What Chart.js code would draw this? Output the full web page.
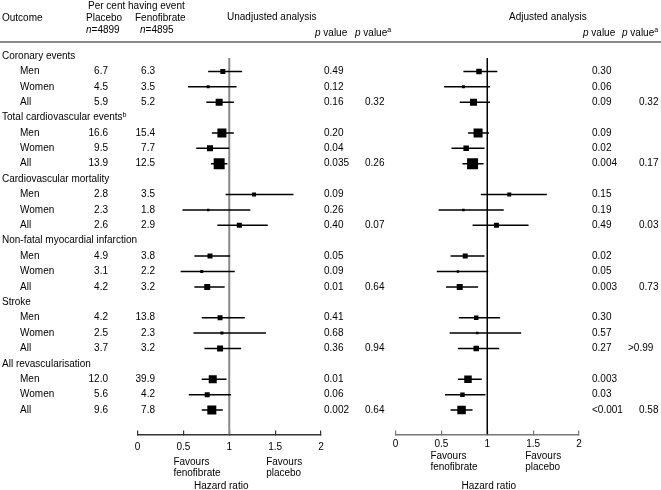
<!DOCTYPE html>
<html>
<head>
<meta charset="utf-8">
<script src="https://cdn.jsdelivr.net/npm/chart.js@4.4.1/dist/chart.umd.min.js"></script>
<style>
  html, body { margin: 0; padding: 0; background: #fff; }
  #wrap { position: relative; width: 661px; height: 490px; }
  #wrap canvas { position: absolute; left: 0; top: 0; }
</style>
</head>
<body>
<div id="wrap">
  <canvas id="unadjChart" width="661" height="490"></canvas>
  <canvas id="adjChart" width="661" height="490"></canvas>
</div>
<script>
// --- Data ---
const outcomes = ['Coronary events', 'Total cardiovascular events', 'Cardiovascular mortality',
    'Non-fatal myocardial infarction', 'Stroke', 'All revascularisation'];
const subgroups = ['Men', 'Women', 'All'];

const placeboPct = [6.7, 4.5, 5.9, 16.6, 9.5, 13.9, 2.8, 2.3, 2.6, 4.9, 3.1, 4.2, 4.2, 2.5, 3.7, 12.0, 5.6, 9.6];
const fenofibratePct = [6.3, 3.5, 5.2, 15.4, 7.7, 12.5, 3.5, 1.8, 2.9, 3.8, 2.2, 3.2, 13.8, 2.3, 3.2, 39.9, 4.2, 7.8];

const unadjHR = [0.93, 0.77, 0.89, 0.92, 0.79, 0.89, 1.27, 0.77, 1.11, 0.79, 0.70, 0.76, 0.90, 0.92, 0.90, 0.82, 0.76, 0.81];
const unadjLower = [0.77, 0.55, 0.75, 0.81, 0.64, 0.80, 0.96, 0.49, 0.87, 0.62, 0.47, 0.62, 0.70, 0.61, 0.73, 0.70, 0.56, 0.70];
const unadjUpper = [1.14, 1.08, 1.05, 1.05, 1.00, 0.98, 1.70, 1.23, 1.42, 1.01, 1.06, 0.95, 1.17, 1.40, 1.13, 0.97, 1.02, 0.93];
const unadjP = ['0.49', '0.12', '0.16', '0.20', '0.04', '0.035', '0.09', '0.26', '0.40', '0.05', '0.09', '0.01',
    '0.41', '0.68', '0.36', '0.01', '0.06', '0.002'];
const unadjPInteraction = ['0.32', '0.26', '0.07', '0.64', '0.94', '0.64'];

const adjHR = [0.91, 0.74, 0.85, 0.90, 0.77, 0.84, 1.24, 0.74, 1.10, 0.76, 0.68, 0.70, 0.88, 0.89, 0.88, 0.79, 0.73, 0.72];
const adjLower = [0.74, 0.53, 0.70, 0.79, 0.61, 0.73, 0.93, 0.47, 0.84, 0.60, 0.45, 0.55, 0.69, 0.59, 0.68, 0.68, 0.54, 0.60];
const adjUpper = [1.11, 1.03, 1.03, 1.02, 0.97, 0.96, 1.65, 1.18, 1.45, 0.97, 1.01, 0.90, 1.14, 1.37, 1.13, 0.94, 0.98, 0.84];
const adjP = ['0.30', '0.06', '0.09', '0.09', '0.02', '0.004', '0.15', '0.19', '0.49', '0.02', '0.05', '0.003',
    '0.30', '0.57', '0.27', '0.003', '0.03', '<0.001'];
const adjPInteraction = ['0.32', '0.17', '0.03', '0.73', '>0.99', '0.58'];

const axisTicks = [0, 0.5, 1, 1.5, 2];

// --- Styles ---
const boxSizeUnadj = [5, 3, 7, 9, 6, 11, 4, 2.5, 5, 5, 3, 6, 5, 3, 6, 8, 5, 9];
const boxSizeAdj = [5.5, 3, 7, 9, 5.5, 11, 4, 2.5, 5, 5, 2.5, 6, 4.5, 2.5, 5.5, 7.5, 4.5, 8.5];
const FONT = '"Liberation Sans", Arial, Helvetica, sans-serif';
const ROW_MIN = 0.13, ROW_MAX = 24.59;
const COL = { label: 2, sub: 20, placebo: 108, feno: 155, pUnadj: 324, pIntUnadj: 365, pAdj: 592, pIntAdj: 639 };

function rowIndex(i) { return Math.floor(i / 3) * 4 + 1 + (i % 3); }

function fontFor(s) {
    if (s === 'i') return `italic 10px ${FONT}`;
    if (s === 'sup') return `7px ${FONT}`;
    return `10px ${FONT}`;
}

// parts: [[text, style], ...]
function drawParts(ctx, parts, x, y, align) {
    let total = 0;
    const widths = parts.map(([t, s]) => {
        ctx.font = fontFor(s);
        const w = ctx.measureText(t).width;
        total += w;
        return w;
    });
    let cx = align === 'right' ? x - total : align === 'center' ? x - total / 2 : x;
    parts.forEach(([t, s], i) => {
        ctx.font = fontFor(s);
        ctx.fillText(t, cx, s === 'sup' ? y - 3 : y);
        cx += widths[i];
    });
}

const tableText = {
    id: 'tableText',
    afterDraw(chart) {
        const ctx = chart.ctx;
        const y = chart.scales.y;
        ctx.save();
        ctx.fillStyle = '#000';
        ctx.textAlign = 'left';
        ctx.textBaseline = 'middle';

        // header
        drawParts(ctx, [['Per cent having event', '']], 88, 6, 'left');
        drawParts(ctx, [['Outcome', '']], 2, 18, 'left');
        drawParts(ctx, [['Placebo', '']], 86, 18, 'left');
        drawParts(ctx, [['Fenofibrate', '']], 135, 18, 'left');
        drawParts(ctx, [['n', 'i'], ['=4899', '']], 86, 30, 'left');
        drawParts(ctx, [['n', 'i'], ['=4895', '']], 140, 30, 'left');
        drawParts(ctx, [['Unadjusted analysis', '']], 227, 17, 'left');
        drawParts(ctx, [['Adjusted analysis', '']], 509, 17, 'left');
        drawParts(ctx, [['p', 'i'], [' value', '']], 315, 33, 'left');
        drawParts(ctx, [['p', 'i'], [' value', ''], ['a', 'sup']], 355, 33, 'left');
        drawParts(ctx, [['p', 'i'], [' value', '']], 583, 33, 'left');
        drawParts(ctx, [['p', 'i'], [' value', ''], ['a', 'sup']], 622, 33, 'left');

        ctx.strokeStyle = '#8a8a8a';
        ctx.lineWidth = 2;
        ctx.beginPath();
        ctx.moveTo(0, 42);
        ctx.lineTo(661, 42);
        ctx.stroke();

        outcomes.forEach((name, k) => {
            const py = y.getPixelForValue(k * 4);
            const parts = [[name, '']];
            if (k === 1) parts.push(['b', 'sup']);
            drawParts(ctx, parts, COL.label, py, 'left');
        });

        placeboPct.forEach((v, i) => {
            const py = y.getPixelForValue(rowIndex(i));
            drawParts(ctx, [[subgroups[i % 3], '']], COL.sub, py, 'left');
            drawParts(ctx, [[v.toFixed(1), '']], COL.placebo, py, 'right');
            drawParts(ctx, [[fenofibratePct[i].toFixed(1), '']], COL.feno, py, 'right');
            drawParts(ctx, [[unadjP[i], '']], COL.pUnadj, py, 'left');
            drawParts(ctx, [[adjP[i], '']], COL.pAdj, py, 'left');
            if (i % 3 === 2) {
                const k = Math.floor(i / 3);
                drawParts(ctx, [[unadjPInteraction[k], '']], COL.pIntUnadj, py, 'left');
                const pa = adjPInteraction[k];
                drawParts(ctx, [[pa, '']], pa.startsWith('>') ? COL.pIntAdj - 11 : COL.pIntAdj, py, 'left');
            }
        });
        ctx.restore();
    }
};

function axisNotes(o) {
    return {
        id: 'axisNotes',
        afterDraw(chart) {
            const ctx = chart.ctx;
            const x = chart.scales.x;
            ctx.save();
            ctx.fillStyle = '#000';
            ctx.textAlign = 'left';
            ctx.textBaseline = 'middle';
            const fx = x.getPixelForValue(0.5) + o.favDx;
            const px = x.getPixelForValue(1.5) + o.plaDx;
            drawParts(ctx, [['Favours', '']], fx, o.favY, 'left');
            drawParts(ctx, [['fenofibrate', '']], fx, o.favY + 11.5, 'left');
            drawParts(ctx, [['Favours', '']], px, o.favY, 'left');
            drawParts(ctx, [['placebo', '']], px, o.favY + 11.5, 'left');
            drawParts(ctx, [['Hazard ratio', '']], x.getPixelForValue(1) + o.hrDx, 486.5, 'center');
            ctx.restore();
        }
    };
}

function forestDatasets(hr, lower, upper, sizes, refColor, refWidth) {
    const boxes = hr.map((v, i) => ({ x: v, y: rowIndex(i) }));
    const ci = [];
    hr.forEach((v, i) => {
        ci.push({ x: lower[i], y: rowIndex(i) }, { x: upper[i], y: rowIndex(i) }, { x: null, y: null });
    });
    return [
        {
            type: 'scatter', data: boxes, pointStyle: 'rect',
            pointRadius: sizes.map(s => s / Math.SQRT2), pointHoverRadius: sizes.map(s => s / Math.SQRT2),
            backgroundColor: '#000', borderColor: '#000', borderWidth: 0
        },
        {
            type: 'line', data: ci, borderColor: '#000', borderWidth: 1.5,
            pointRadius: 0, spanGaps: false, fill: false, tension: 0
        },
        {
            type: 'line', data: [{ x: 1, y: ROW_MIN }, { x: 1, y: ROW_MAX }],
            borderColor: refColor, borderWidth: refWidth, pointRadius: 0, fill: false
        }
    ];
}

function renderForest(canvasId, datasets, o, plugins) {
    const ctx = document.getElementById(canvasId).getContext('2d');
    return new Chart(ctx, {
        type: 'scatter',
        data: { datasets: datasets },
        options: {
            responsive: false,
            animation: false,
            devicePixelRatio: 1,
            layout: { padding: { left: o.left, right: 661 - o.right, top: 58, bottom: 35.5 } },
            plugins: { legend: { display: false }, tooltip: { enabled: false } },
            scales: {
                x: {
                    type: 'linear', position: 'bottom', min: 0, max: 2,
                    afterBuildTicks: s => { s.ticks = axisTicks.map(v => ({ value: v })); },
                    afterFit: s => { s.height = 20; },
                    ticks: {
                        font: { family: FONT, size: 10 }, color: '#000',
                        padding: o.tickPad, maxRotation: 0, autoSkip: false,
                        callback: v => String(v)
                    },
                    grid: { drawOnChartArea: false, drawTicks: true, tickLength: -4, color: o.axisColor, lineWidth: 1.2 },
                    border: { display: true, color: o.axisColor, width: 1.5 }
                },
                y: { type: 'linear', display: false, reverse: true, min: ROW_MIN, max: ROW_MAX }
            }
        },
        plugins: plugins
    });
}

renderForest('unadjChart',
    forestDatasets(unadjHR, unadjLower, unadjUpper, boxSizeUnadj, '#8a8a8a', 2),
    { left: 137.5, right: 321, tickPad: 11, axisColor: '#333' },
    [tableText, axisNotes({ favDx: -10, plaDx: -9, favY: 462, hrDx: -8 })]);

renderForest('adjChart',
    forestDatasets(adjHR, adjLower, adjUpper, boxSizeAdj, '#000', 1.5),
    { left: 395.5, right: 579, tickPad: 8, axisColor: '#777' },
    [axisNotes({ favDx: -11, plaDx: -8, favY: 456, hrDx: 1.5 })]);
</script>
</body>
</html>
